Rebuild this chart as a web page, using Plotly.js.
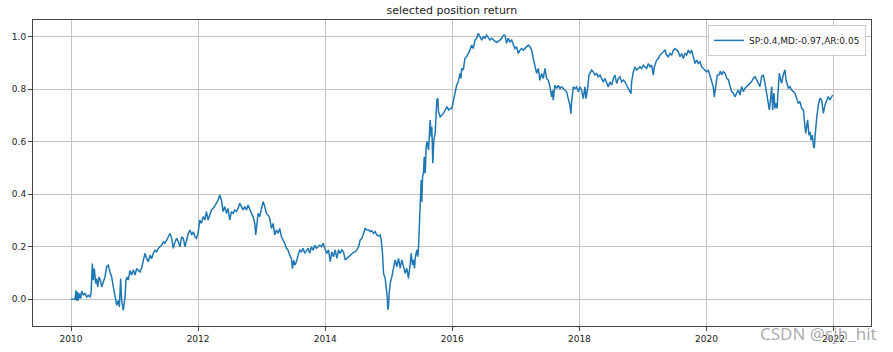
<!DOCTYPE html>
<html>
<head>
<meta charset="utf-8">
<script src="https://cdn.plot.ly/plotly-3.0.1.min.js"></script>
<style>html,body{margin:0;padding:0;background:#fff;}#chart{width:893px;height:352px;}</style>
</head>
<body>
<div id="chart"></div>
<script>
// Decimal-year positions and cumulative return values
const years = [
2010.000,2010.063,2010.079,2010.089,2010.105,2010.115,2010.131,2010.152,2010.168,2010.194,2010.220,2010.247,2010.273,2010.299,2010.315,2010.336,2010.351,2010.367,2010.388,2010.404,2010.420,2010.441,2010.462,2010.483,2010.509,2010.535,2010.561,2010.587,2010.614,2010.640,2010.666,2010.692,2010.719,2010.745,2010.761,2010.781,2010.797,2010.823,2010.850,2010.865,2010.886,2010.902,2010.928,2010.955,2010.981,2011.007,2011.033,2011.059,2011.086,2011.112,2011.138,2011.164,2011.191,2011.217,2011.243,2011.269,2011.296,2011.322,2011.348,2011.374,2011.400,2011.427,2011.453,2011.479,2011.505,2011.532,2011.558,2011.584,2011.610,2011.637,2011.663,2011.689,2011.715,2011.741,2011.768,2011.794,2011.820,2011.846,2011.873,2011.899,2011.925,2011.951,
2011.974,2012.000,2012.026,2012.052,2012.079,2012.105,2012.131,2012.157,2012.184,2012.210,2012.236,2012.262,2012.288,2012.315,2012.341,2012.367,2012.393,2012.420,2012.446,2012.472,2012.498,2012.525,2012.551,2012.577,2012.603,2012.629,2012.656,2012.682,2012.708,2012.734,2012.761,2012.787,2012.813,2012.839,2012.865,2012.892,2012.907,2012.928,2012.944,2012.970,2012.997,2013.023,2013.049,2013.075,2013.101,2013.128,2013.154,2013.180,2013.206,2013.233,2013.259,2013.285,2013.311,2013.338,2013.364,2013.390,2013.416,2013.442,2013.469,2013.485,2013.505,2013.521,2013.547,2013.574,2013.600,2013.626,2013.652,2013.678,2013.705,2013.731,2013.757,2013.783,2013.810,2013.836,2013.862,2013.888,2013.914,2013.941,2013.967,2013.993,
2014.026,2014.052,2014.079,2014.105,2014.131,2014.157,2014.184,2014.210,2014.236,2014.262,2014.288,2014.315,2014.341,2014.367,2014.393,2014.420,2014.446,2014.472,2014.498,2014.525,2014.551,2014.577,2014.603,2014.629,2014.656,2014.682,2014.708,2014.734,2014.761,2014.787,2014.813,2014.839,2014.865,2014.881,2014.902,2014.918,2014.944,2014.960,2014.976,2014.986,2014.997,2015.007,2015.023,2015.049,2015.075,2015.101,2015.128,2015.154,2015.180,2015.206,2015.233,2015.259,2015.285,2015.311,2015.338,2015.353,2015.374,2015.390,2015.406,2015.416,2015.442,2015.458,2015.469,2015.479,2015.495,2015.511,2015.521,2015.532,2015.547,2015.558,2015.574,2015.589,2015.605,2015.626,2015.652,2015.668,2015.678,2015.694,2015.710,2015.731,2015.757,2015.773,2015.783,2015.810,2015.836,2015.862,2015.888,2015.914,2015.941,2015.967,2015.993,2016.019,2016.046,
2016.068,2016.094,2016.121,2016.136,2016.147,2016.173,2016.199,2016.226,2016.252,2016.278,2016.304,2016.330,2016.357,2016.383,2016.409,2016.435,2016.462,2016.488,2016.514,2016.540,2016.567,2016.593,2016.619,2016.645,2016.671,2016.698,2016.724,2016.750,2016.776,2016.803,2016.829,2016.855,2016.881,2016.907,2016.934,2016.960,2016.986,2017.012,2017.039,2017.065,2017.091,2017.117,2017.143,2017.170,2017.196,2017.222,2017.248,2017.275,2017.301,2017.327,2017.353,2017.379,2017.406,2017.432,2017.458,2017.484,2017.511,2017.537,2017.563,2017.579,2017.589,2017.615,2017.642,2017.668,2017.694,2017.720,2017.747,2017.773,2017.799,2017.825,2017.851,2017.867,2017.878,2017.904,2017.930,2017.956,2017.983,2018.009,2018.035,2018.061,2018.088,
2018.104,2018.130,2018.151,2018.172,2018.193,2018.219,2018.245,2018.272,2018.298,2018.324,2018.350,2018.376,2018.403,2018.429,2018.455,2018.481,2018.508,2018.534,2018.560,2018.586,2018.613,2018.639,2018.665,2018.691,2018.717,2018.744,2018.770,2018.796,2018.812,2018.822,2018.849,2018.875,2018.901,2018.927,2018.953,2018.980,2019.006,2019.032,2019.058,2019.085,2019.111,2019.137,2019.163,2019.179,2019.200,2019.216,2019.242,2019.268,2019.294,2019.321,2019.347,2019.373,2019.399,2019.425,2019.452,2019.478,2019.504,2019.530,2019.557,2019.583,2019.609,2019.635,2019.661,2019.688,2019.714,2019.740,2019.766,2019.793,2019.819,2019.845,2019.871,2019.898,2019.924,2019.950,2019.976,2020.002,2020.029,2020.055,2020.081,2020.107,2020.123,2020.144,2020.170,
2020.197,2020.218,2020.239,2020.265,2020.291,2020.318,2020.344,2020.370,2020.396,2020.422,2020.449,2020.475,2020.501,2020.527,2020.554,2020.580,2020.606,2020.632,2020.659,2020.685,2020.711,2020.737,2020.763,2020.790,2020.816,2020.842,2020.868,2020.895,2020.921,2020.947,2020.973,2020.989,2021.010,2021.026,2021.041,2021.062,2021.078,2021.094,2021.110,2021.131,2021.146,2021.167,2021.183,2021.209,2021.235,2021.251,2021.272,2021.288,2021.314,2021.340,2021.367,2021.393,2021.419,2021.445,2021.471,2021.498,2021.524,2021.540,2021.561,2021.576,2021.592,2021.613,2021.629,2021.645,2021.666,2021.681,2021.697,2021.708,2021.718,2021.734,2021.760,2021.786,2021.812,2021.839,2021.865,2021.891,2021.917,2021.943,2021.970,2021.985
];
const returns = [
0.000,0.000,0.034,-0.006,0.028,-0.004,0.022,0.003,0.032,0.015,0.024,0.009,0.015,0.009,0.022,0.136,0.073,0.117,0.060,0.079,0.047,0.085,0.073,0.047,0.066,0.085,0.124,0.130,0.104,0.085,0.047,0.015,-0.023,-0.004,-0.029,0.079,-0.004,-0.042,0.009,0.073,0.085,0.073,0.110,0.092,0.113,0.092,0.117,0.110,0.104,0.120,0.143,0.175,0.155,0.143,0.168,0.155,0.175,0.187,0.181,0.194,0.200,0.206,0.219,0.213,0.225,0.238,0.251,0.232,0.194,0.219,0.232,0.219,0.200,0.238,0.232,0.200,0.225,0.251,0.264,0.245,0.257,0.238,
0.232,0.251,0.302,0.289,0.315,0.302,0.334,0.302,0.321,0.340,0.346,0.359,0.366,0.378,0.397,0.378,0.334,0.353,0.327,0.346,0.302,0.334,0.327,0.340,0.334,0.346,0.366,0.353,0.340,0.353,0.340,0.359,0.340,0.327,0.315,0.289,0.245,0.289,0.327,0.315,0.340,0.372,0.353,0.327,0.321,0.308,0.270,0.289,0.245,0.264,0.251,0.270,0.238,0.225,0.213,0.194,0.187,0.168,0.155,0.117,0.149,0.130,0.143,0.168,0.187,0.181,0.194,0.175,0.187,0.194,0.175,0.200,0.187,0.206,0.194,0.200,0.206,0.200,0.213,0.194,
0.175,0.188,0.143,0.181,0.162,0.188,0.156,0.188,0.175,0.188,0.181,0.150,0.156,0.162,0.169,0.175,0.179,0.181,0.188,0.200,0.226,0.232,0.251,0.270,0.264,0.264,0.258,0.261,0.251,0.258,0.245,0.241,0.245,0.226,0.175,0.099,0.080,0.048,0.010,-0.040,-0.022,0.023,0.061,0.086,0.118,0.150,0.124,0.156,0.118,0.150,0.124,0.099,0.118,0.080,0.137,0.175,0.131,0.150,0.118,0.156,0.188,0.162,0.200,0.251,0.353,0.454,0.372,0.467,0.480,0.543,0.480,0.581,0.600,0.569,0.683,0.619,0.657,0.518,0.607,0.632,0.759,0.765,0.714,0.695,0.702,0.708,0.721,0.734,0.721,0.727,0.727,0.759,0.797,
0.815,0.828,0.860,0.841,0.879,0.873,0.917,0.924,0.936,0.949,0.968,0.955,0.987,0.994,1.013,1.000,0.987,1.000,0.994,1.006,0.994,0.987,0.994,0.987,0.983,0.978,0.981,0.987,0.994,1.006,1.006,0.975,0.994,0.981,0.987,0.968,0.955,0.962,0.936,0.949,0.955,0.949,0.955,0.962,0.968,0.962,0.949,0.917,0.892,0.860,0.879,0.834,0.860,0.841,0.879,0.841,0.834,0.809,0.771,0.796,0.758,0.815,0.803,0.815,0.803,0.809,0.803,0.796,0.790,0.764,0.739,0.707,0.752,0.809,0.803,0.809,0.790,0.809,0.796,0.764,0.809,
0.764,0.803,0.854,0.866,0.873,0.866,0.854,0.860,0.847,0.854,0.841,0.828,0.841,0.822,0.809,0.828,0.815,0.841,0.854,0.822,0.841,0.847,0.828,0.835,0.828,0.815,0.803,0.790,0.783,0.828,0.866,0.885,0.873,0.879,0.885,0.879,0.892,0.885,0.879,0.898,0.885,0.892,0.854,0.885,0.898,0.911,0.917,0.930,0.936,0.943,0.949,0.930,0.924,0.936,0.930,0.949,0.955,0.949,0.943,0.924,0.936,0.917,0.936,0.930,0.949,0.936,0.949,0.924,0.898,0.911,0.898,0.905,0.885,0.879,0.873,0.866,0.873,0.854,0.828,0.809,0.771,0.809,0.854,
0.855,0.868,0.855,0.867,0.861,0.842,0.836,0.810,0.791,0.785,0.772,0.785,0.797,0.778,0.810,0.791,0.804,0.810,0.817,0.823,0.829,0.842,0.848,0.836,0.823,0.810,0.848,0.855,0.823,0.785,0.759,0.721,0.766,0.810,0.721,0.785,0.727,0.746,0.727,0.797,0.861,0.836,0.823,0.855,0.874,0.836,0.817,0.804,0.810,0.797,0.791,0.785,0.766,0.746,0.753,0.727,0.721,0.683,0.632,0.657,0.683,0.625,0.638,0.606,0.625,0.587,0.575,0.619,0.664,0.689,0.740,0.766,0.759,0.708,0.740,0.753,0.772,0.759,0.772,0.778
];
const xTickVals = [2010, 2012, 2014, 2016, 2018, 2020, 2022];
const xTickText = ['2010', '2012', '2014', '2016', '2018', '2020', '2022'];
const yTickVals = [0, 0.2, 0.4, 0.6, 0.8, 1.0];
const yTickText = ['0.0', '0.2', '0.4', '0.6', '0.8', '1.0'];
const seriesName = 'SP:0.4,MD:-0.97,AR:0.05';
const chartTitle = 'selected position return';
const watermark = 'CSDN @sjh_hit';

const trace = {
  x: years, y: returns, type: 'scatter', mode: 'lines', name: seriesName,
  line: {color: '#1f77b4', width: 1.5}, showlegend: true
};
const axisCommon = {
  showline: true, mirror: true, linecolor: '#444', linewidth: 1,
  showgrid: true, gridcolor: '#c4c4c4', gridwidth: 1, zeroline: false,
  ticks: 'outside', ticklen: 4, tickcolor: '#444', tickwidth: 1,
  tickfont: {family: 'DejaVu Sans', size: 9, color: '#222'}
};
const layout = {
  width: 893, height: 352,
  margin: {l: 33, r: 22, t: 20, b: 26},
  paper_bgcolor: '#fff', plot_bgcolor: '#fff',
  title: {text: chartTitle, font: {family: 'DejaVu Sans', size: 11, color: '#222'},
          x: 0.506, xanchor: 'center', y: 0.972, yanchor: 'middle', yref: 'container'},
  xaxis: Object.assign({}, axisCommon, {range: [2009.402, 2022.589], tickmode: 'array', tickvals: xTickVals, ticktext: xTickText}),
  yaxis: Object.assign({}, axisCommon, {range: [-0.1017, 1.0636], tickmode: 'array', tickvals: yTickVals, ticktext: yTickText}),
  legend: {x: 0.994, y: 0.984, xanchor: 'right', yanchor: 'top', bgcolor: 'rgba(255,255,255,0.85)',
           bordercolor: '#cccccc', borderwidth: 1, font: {family: 'DejaVu Sans', size: 9, color: '#222'},
           itemwidth: 30, tracegroupgap: 0},
  annotations: [{text: watermark, xref: 'paper', yref: 'paper', x: 1.008, y: -0.024, xanchor: 'right', yanchor: 'middle',
                 showarrow: false, borderpad: 0,
                 font: {family: 'Noto Sans', size: 17, color: 'rgba(150,150,150,0.8)'}}]
};
Plotly.newPlot('chart', [trace], layout, {displayModeBar: false, staticPlot: true});
</script>
</body>
</html>
